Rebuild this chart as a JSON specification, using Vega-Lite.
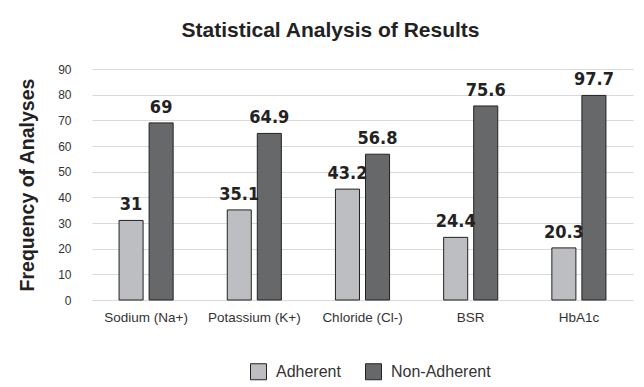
{
  "$schema": "https://vega.github.io/schema/vega-lite/v6.json",
  "width": 541,
  "height": 231,
  "autosize": {"type": "none"},
  "padding": {"left": 92, "top": 69, "right": 11, "bottom": 87},
  "background": "white",
  "title": {
    "text": "Statistical Analysis of Results",
    "font": "Liberation Sans",
    "fontSize": 21,
    "fontWeight": "bold",
    "color": "#222222",
    "anchor": "middle",
    "dx": -32,
    "offset": 22
  },
  "data": {
    "values": [
      {"test": "Sodium (Na+)", "group": "Adherent", "value": 31, "label": "31"},
      {"test": "Sodium (Na+)", "group": "Non-Adherent", "value": 69, "label": "69"},
      {"test": "Potassium (K+)", "group": "Adherent", "value": 35.1, "label": "35.1"},
      {"test": "Potassium (K+)", "group": "Non-Adherent", "value": 64.9, "label": "64.9"},
      {"test": "Chloride (Cl-)", "group": "Adherent", "value": 43.2, "label": "43.2"},
      {"test": "Chloride (Cl-)", "group": "Non-Adherent", "value": 56.8, "label": "56.8"},
      {"test": "BSR", "group": "Adherent", "value": 24.4, "label": "24.4"},
      {"test": "BSR", "group": "Non-Adherent", "value": 75.6, "label": "75.6"},
      {"test": "HbA1c", "group": "Adherent", "value": 20.3, "label": "20.3"},
      {"test": "HbA1c", "group": "Non-Adherent", "value": 79.7, "label": "97.7"}
    ]
  },
  "encoding": {
    "x": {
      "field": "test",
      "type": "nominal",
      "sort": null,
      "scale": {"paddingInner": 0.5, "paddingOuter": 0.25},
      "axis": {
        "title": null,
        "labelAngle": 0,
        "labelFont": "Liberation Sans",
        "labelFontSize": 13.5,
        "labelColor": "#333333",
        "labelPadding": 10,
        "ticks": false,
        "domain": false
      }
    },
    "xOffset": {
      "field": "group",
      "type": "nominal",
      "scale": {"paddingInner": 0.2, "paddingOuter": 0}
    },
    "y": {
      "field": "value",
      "type": "quantitative",
      "scale": {"domain": [0, 90]},
      "axis": {
        "title": "Frequency of Analyses",
        "titleFont": "Liberation Sans",
        "titleFontSize": 19.5,
        "titleFontWeight": "bold",
        "titleColor": "#222222",
        "titlePadding": 20,
        "values": [0, 10, 20, 30, 40, 50, 60, 70, 80, 90],
        "labelFont": "Liberation Sans",
        "labelFontSize": 12,
        "labelColor": "#333333",
        "labelPadding": 21,
        "ticks": false,
        "domain": false,
        "gridColor": "#d9d9d9",
        "gridWidth": 1
      }
    }
  },
  "layer": [
    {
      "mark": {"type": "bar", "stroke": "#222222", "strokeWidth": 1},
      "encoding": {
        "color": {
          "field": "group",
          "type": "nominal",
          "scale": {"domain": ["Adherent", "Non-Adherent"], "range": ["#bdbec1", "#67686a"]},
          "legend": {
            "title": null,
            "orient": "none",
            "legendX": 158,
            "legendY": 294,
            "direction": "horizontal",
            "symbolType": "square",
            "symbolSize": 256,
            "symbolStrokeColor": "#222222",
            "symbolStrokeWidth": 1,
            "symbolOpacity": 1,
            "labelFont": "Liberation Sans",
            "labelFontSize": 16,
            "labelColor": "#333333",
            "labelOffset": 9,
            "columnPadding": 22
          }
        }
      }
    },
    {
      "mark": {
        "type": "text",
        "baseline": "bottom",
        "dy": -6,
        "font": "'DejaVu Sans Condensed', 'Roboto', sans-serif",
        "fontSize": 18,
        "fontWeight": "bold",
        "color": "#222222"
      },
      "encoding": {
        "text": {"field": "label"}
      }
    }
  ],
  "config": {
    "view": {"stroke": null}
  }
}
